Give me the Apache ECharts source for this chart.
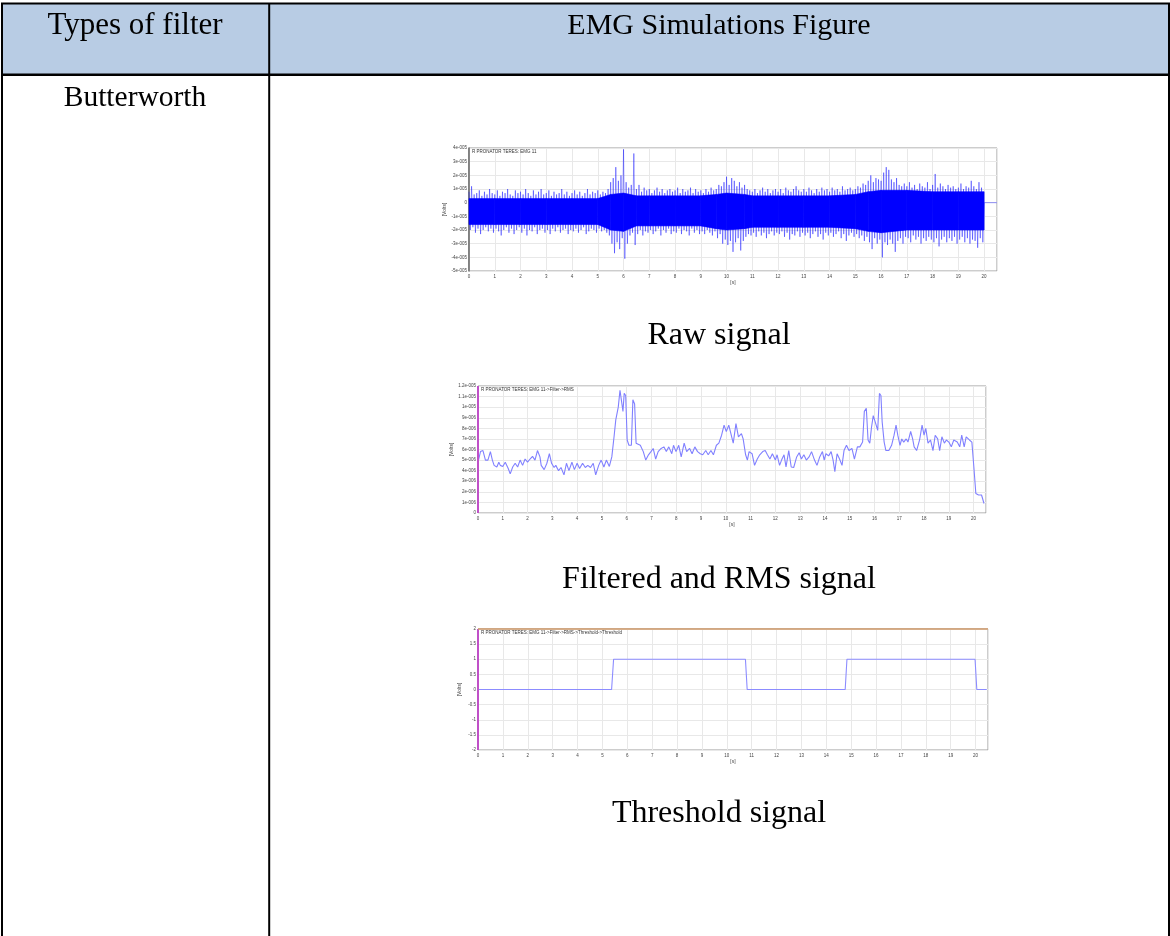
<!DOCTYPE html>
<html><head><meta charset="utf-8">
<script src="https://cdn.jsdelivr.net/npm/echarts@6/dist/echarts.min.js"></script>
<style>html,body{margin:0;padding:0;background:#fff}#c{width:1170px;height:936px}</style>
</head><body><div id="c"></div>
<script>
// ---------- texts ----------
const headers = ['Types of filter', 'EMG Simulations Figure'];
const filterName = 'Butterworth';
const captions = ['Raw signal', 'Filtered and RMS signal', 'Threshold signal'];
const plotTitles = ['R PRONATOR TERES: EMG 11', 'R PRONATOR TERES: EMG 11->Filter->RMS', 'R PRONATOR TERES: EMG 11->Filter->RMS->Threshold->Threshold'];

// ---------- raw signal (units of 1e-5 V), envelope every 0.1 s ----------
const rawHi = [
 0.8,1.2,0.6,0.7,0.9,0.5,0.8,0.6,1.0,0.7,
 0.6,0.9,0.5,0.8,0.7,1.0,0.6,0.5,0.9,0.7,
 0.8,0.6,1.0,0.7,0.5,0.9,0.6,0.8,1.0,0.6,
 0.7,0.9,0.5,0.8,0.6,0.7,1.0,0.6,0.8,0.5,
 0.7,0.9,0.6,0.8,0.5,0.7,1.0,0.6,0.8,0.7,
 0.9,0.6,0.8,0.7,1.0,1.5,1.8,2.6,1.6,2.0,
 3.9,1.5,1.1,1.3,3.6,1.0,1.3,0.8,1.1,0.9,
 1.0,0.7,0.9,1.1,0.8,1.0,0.7,0.9,1.0,0.8,
 0.9,1.1,0.7,1.0,0.8,0.9,1.1,0.7,1.0,0.8,
 0.9,0.7,1.0,0.8,1.1,0.9,1.0,1.3,1.2,1.5,
 1.9,1.3,1.8,1.6,1.2,1.5,1.1,1.3,1.0,0.9,
 0.8,1.0,0.7,0.9,1.1,0.8,1.0,0.7,0.9,1.0,
 0.8,1.0,0.7,1.1,0.9,0.8,1.0,1.2,0.9,0.8,
 1.0,0.8,1.1,0.9,0.7,1.0,0.8,1.1,0.9,1.0,
 0.8,1.1,0.9,1.0,0.8,1.2,0.9,1.0,1.1,0.9,
 1.0,1.2,1.1,1.4,1.3,1.6,2.0,1.5,1.8,1.7,
 1.6,2.2,2.6,2.4,1.7,1.5,1.8,1.3,1.2,1.4,
 1.2,1.5,1.1,1.3,1.0,1.4,1.2,1.1,1.5,1.0,
 1.3,2.1,1.1,1.4,1.2,1.0,1.3,1.1,1.2,1.0,
 1.1,1.4,1.0,1.2,1.1,1.6,1.2,1.0,1.5,1.1
];
const rawLo = [
 -2.0,-1.8,-2.2,-1.9,-2.3,-2.0,-1.8,-2.1,-1.9,-2.2,
 -1.9,-2.1,-2.4,-2.0,-1.8,-2.2,-1.9,-2.3,-2.0,-1.8,
 -2.2,-1.9,-2.4,-2.0,-2.1,-1.8,-2.3,-2.0,-1.9,-2.2,
 -2.0,-2.3,-1.9,-2.1,-1.8,-2.2,-2.0,-1.9,-2.3,-2.0,
 -2.1,-1.9,-2.2,-2.0,-1.8,-2.3,-2.1,-1.9,-2.0,-2.2,
 -1.9,-2.1,-2.0,-2.2,-2.4,-3.0,-3.7,-2.9,-3.4,-2.6,
 -4.1,-3.0,-2.4,-2.2,-3.1,-2.3,-2.0,-2.4,-2.1,-2.2,
 -2.0,-2.3,-2.1,-1.9,-2.4,-2.0,-2.2,-1.9,-2.3,-2.1,
 -2.2,-1.9,-2.3,-2.0,-2.1,-2.4,-1.9,-2.2,-2.0,-2.3,
 -2.1,-2.3,-2.0,-2.2,-2.4,-2.1,-2.6,-2.3,-3.0,-2.7,
 -3.1,-2.8,-3.6,-2.9,-2.6,-3.5,-2.8,-2.5,-2.3,-2.4,
 -2.2,-2.5,-2.1,-2.4,-2.2,-2.6,-2.3,-2.1,-2.4,-2.2,
 -2.3,-2.1,-2.5,-2.2,-2.7,-2.3,-2.4,-2.1,-2.5,-2.2,
 -2.4,-2.2,-2.6,-2.3,-2.1,-2.5,-2.3,-2.7,-2.2,-2.4,
 -2.2,-2.5,-2.3,-2.1,-2.6,-2.3,-2.8,-2.4,-2.2,-2.5,
 -2.3,-2.6,-2.4,-2.8,-2.5,-2.9,-3.4,-2.6,-3.0,-2.7,
 -4.0,-2.9,-3.1,-2.7,-3.0,-3.6,-2.8,-2.6,-3.0,-2.5,
 -2.6,-2.9,-2.4,-2.7,-2.5,-3.0,-2.6,-2.8,-2.5,-2.7,
 -2.9,-2.6,-3.2,-2.7,-2.5,-2.9,-2.6,-2.8,-2.5,-3.0,
 -2.7,-2.5,-2.9,-2.6,-3.0,-2.7,-2.8,-3.3,-2.6,-2.9
];
const rawStep = 0.1;
// dense core band of the raw signal (units 1e-5 V)
const coreT  = [0,1,2,3,4,5,5.5,6,6.5,7,8,9,9.6,10,10.7,11,12,13,14,15,15.5,16,17,18,19,20];
const coreHi = [0.3,0.3,0.3,0.3,0.3,0.3,0.6,0.7,0.5,0.5,0.5,0.5,0.6,0.7,0.6,0.5,0.5,0.5,0.5,0.6,0.8,0.9,0.9,0.8,0.8,0.8];
const coreLo = [-1.6,-1.6,-1.6,-1.6,-1.6,-1.6,-2.0,-2.1,-1.7,-1.7,-1.7,-1.7,-1.9,-2.0,-1.9,-1.8,-1.8,-1.8,-1.8,-1.9,-2.1,-2.2,-2.0,-2.0,-2.0,-2.0];
const rawTail = [[20.0, 0], [20.5, 0]];

// ---------- filtered + RMS (units of 1e-6 V) ----------
const rmsSignal = [
 [0.02,5.0],[0.1,5.8],[0.2,5.9],[0.3,5.0],[0.4,5.0],[0.5,5.8],[0.58,5.0],[0.65,4.5],[0.76,4.35],[0.84,4.8],
 [0.9,4.5],[1.0,4.4],[1.1,4.8],[1.22,4.2],[1.3,3.7],[1.4,4.35],[1.5,4.7],[1.6,4.35],[1.7,5.0],[1.8,4.5],
 [1.9,5.1],[2.0,4.8],[2.1,5.1],[2.2,5.35],[2.3,5.0],[2.4,5.9],[2.5,5.3],[2.55,4.5],[2.67,4.1],[2.78,4.7],
 [2.88,5.6],[2.97,4.7],[3.07,4.3],[3.14,4.5],[3.25,4.0],[3.35,4.3],[3.47,3.6],[3.57,4.7],[3.67,4.0],[3.79,4.8],
 [3.89,4.1],[4.0,4.7],[4.1,4.2],[4.22,4.7],[4.33,4.3],[4.43,4.5],[4.54,4.3],[4.65,4.7],[4.75,3.6],[4.87,4.5],
 [4.97,5.0],[5.08,4.35],[5.18,5.0],[5.3,4.4],[5.4,5.3],[5.49,7.2],[5.56,8.8],[5.66,10.0],[5.73,11.6],[5.8,11.7],
 [5.85,9.6],[5.9,11.3],[5.96,11.1],[6.02,6.9],[6.09,6.4],[6.19,6.4],[6.25,10.7],[6.32,10.3],[6.38,6.6],[6.45,6.7],
 [6.55,6.4],[6.67,5.8],[6.77,5.0],[6.88,5.5],[6.98,5.8],[7.07,6.1],[7.17,5.1],[7.27,5.8],[7.39,6.1],[7.5,6.25],
 [7.6,5.8],[7.7,6.25],[7.82,5.6],[7.89,6.4],[7.99,5.8],[8.1,6.4],[8.2,5.3],[8.32,6.6],[8.42,5.8],[8.54,6.1],
 [8.64,5.6],[8.75,6.25],[8.86,5.8],[8.97,5.6],[9.07,5.5],[9.19,5.9],[9.29,5.5],[9.4,5.9],[9.5,5.5],[9.62,6.4],
 [9.72,6.6],[9.83,7.35],[9.93,8.3],[10.02,7.7],[10.12,8.3],[10.2,8.45],[10.3,6.6],[10.41,8.45],[10.51,7.2],[10.63,7.5],
 [10.7,7.0],[10.8,5.5],[10.87,5.0],[10.94,5.8],[11.06,5.6],[11.16,4.5],[11.27,5.1],[11.37,5.5],[11.49,5.8],[11.59,5.9],
 [11.68,5.5],[11.78,5.1],[11.88,5.6],[12.0,5.0],[12.07,5.5],[12.17,4.5],[12.25,5.0],[12.35,5.5],[12.43,4.35],[12.54,5.9],
 [12.64,4.35],[12.74,4.3],[12.86,5.3],[12.96,5.7],[13.05,5.1],[13.15,5.5],[13.25,5.0],[13.36,5.3],[13.46,5.8],[13.58,5.0],
 [13.68,4.5],[13.79,5.3],[13.9,5.8],[13.97,5.0],[14.04,5.6],[14.15,5.4],[14.25,5.8],[14.33,5.0],[14.4,3.9],[14.49,5.6],
 [14.59,5.1],[14.69,4.5],[14.77,5.9],[14.87,6.4],[14.97,5.9],[15.09,6.1],[15.19,5.1],[15.31,6.25],[15.41,6.25],[15.52,6.7],
 [15.59,9.6],[15.67,9.9],[15.74,6.9],[15.81,6.6],[15.88,8.1],[15.95,9.2],[16.05,8.45],[16.13,7.8],[16.2,11.3],[16.26,11.1],
 [16.31,8.6],[16.39,6.7],[16.46,5.9],[16.58,5.9],[16.69,6.4],[16.79,7.35],[16.87,8.3],[16.94,7.35],[17.03,6.4],[17.1,7.0],
 [17.18,6.7],[17.28,7.0],[17.35,6.7],[17.46,7.7],[17.54,7.0],[17.6,6.25],[17.7,5.9],[17.82,6.9],[17.92,8.3],[18.0,7.35],
 [18.07,8.0],[18.16,6.6],[18.26,6.9],[18.36,5.9],[18.45,7.35],[18.55,7.0],[18.63,5.9],[18.72,7.2],[18.82,6.6],[18.9,6.9],
 [19.0,6.7],[19.1,6.25],[19.2,6.9],[19.34,6.7],[19.44,6.25],[19.52,7.35],[19.62,6.25],[19.7,7.2],[19.83,6.9],[19.93,6.7],
 [20.01,4.35],[20.09,1.85],[20.2,1.7],[20.32,1.7],[20.42,0.9]
];

// ---------- threshold ----------
const thrT = [0, 5.37, 5.45, 10.75, 10.82, 14.76, 14.83, 19.98, 20.05, 20.45];
const thrV = [0, 0, 1, 1, 0, 0, 1, 1, 0, 0];

// ---------- axes ----------
const xMax = 20.5;
const rawY = { min: -5, max: 4, interval: 1 };
const rmsY = { min: 0, max: 12, interval: 1 };
const thrY = { min: -2, max: 2, interval: 0.5 };

// ---------- build ----------
const rawZig = [];
for (let i = 0; i < rawHi.length; i++) {
  rawZig.push([i * rawStep, rawHi[i]]);
  rawZig.push([i * rawStep + rawStep / 2, rawLo[i]]);
}
rawTail.forEach(p => rawZig.push(p));
const coreSegs = [];
for (let i = 0; i < coreT.length - 1; i++) {
  coreSegs.push([coreT[i], coreHi[i], coreLo[i], coreT[i + 1], coreHi[i + 1], coreLo[i + 1]]);
}
const thrData = thrT.map((t, i) => [t, thrV[i]]);

const grids = [
  { left: 469, top: 148, width: 528, height: 123 },
  { left: 478, top: 386, width: 508, height: 127 },
  { left: 478, top: 629, width: 510, height: 121 }
];
const lblFont = { fontSize: 4.5, color: '#444', fontFamily: 'Liberation Sans' };

function xAx(gi) {
  return {
    type: 'value', gridIndex: gi, min: 0, max: xMax, interval: 1,
    name: '[s]', nameLocation: 'middle', nameGap: 9,
    nameTextStyle: { fontSize: 5, color: '#444', fontFamily: 'Liberation Sans' },
    axisLine: { show: false }, axisTick: { show: false },
    axisLabel: Object.assign({ margin: 3, formatter: v => (v > 20 ? '' : String(v)) }, lblFont),
    splitLine: { show: true, lineStyle: { color: '#e8e8e8', width: 1 } }
  };
}
function yAx(gi, cfg, fmt, lineColor) {
  return {
    type: 'value', gridIndex: gi, min: cfg.min, max: cfg.max, interval: cfg.interval,
    name: '[Volts]', nameLocation: 'middle', nameGap: 16, nameRotate: 90,
    nameTextStyle: { fontSize: 5, color: '#444', fontFamily: 'Liberation Sans' },
    axisLine: { show: !!lineColor, lineStyle: { color: lineColor || '#999', width: 1.5 } },
    axisTick: { show: false },
    axisLabel: Object.assign({ margin: 2, formatter: fmt }, lblFont),
    splitLine: { show: true, lineStyle: { color: '#e8e8e8', width: 1 } }
  };
}
const fmtRaw = v => (v === 0 ? '0' : v + 'e-005');
const fmtRms = v => (v === 0 ? '0' : (v >= 10 ? (v / 10) + 'e-005' : v + 'e-006'));
const fmtThr = v => String(v);

const serif = 'Liberation Serif, Times New Roman, serif';
function txt(s, x, y, size) {
  return { type: 'text', x: x, y: y, style: { text: s, font: size + 'px ' + serif, fill: '#000', textAlign: 'center', textVerticalAlign: 'middle' } };
}
const graphic = [
  { type: 'rect', shape: { x: 2, y: 3, width: 1167, height: 71 }, style: { fill: '#B8CCE4' }, z: -1 },
  { type: 'line', shape: { x1: 1, y1: 3.5, x2: 1170, y2: 3.5 }, style: { stroke: '#000', lineWidth: 2 } },
  { type: 'line', shape: { x1: 1, y1: 74.7, x2: 1170, y2: 74.7 }, style: { stroke: '#000', lineWidth: 2.5 } },
  { type: 'line', shape: { x1: 2, y1: 3, x2: 2, y2: 936 }, style: { stroke: '#000', lineWidth: 2 } },
  { type: 'line', shape: { x1: 269.2, y1: 3, x2: 269.2, y2: 936 }, style: { stroke: '#000', lineWidth: 2 } },
  { type: 'line', shape: { x1: 1169, y1: 3, x2: 1169, y2: 936 }, style: { stroke: '#000', lineWidth: 2 } },
  txt(headers[0], 135, 26, 31),
  txt(headers[1], 719, 26, 30),
  txt(filterName, 135, 98, 29.5),
  txt(captions[0], 719, 336, 32),
  txt(captions[1], 719, 580, 32),
  txt(captions[2], 719, 814, 32)
];
grids.forEach((g, i) => {
  graphic.push({ type: 'text', x: g.left + 3, y: g.top + 1.5, z: 100,
    style: { text: plotTitles[i], font: '4.5px Liberation Sans', fill: '#333', textAlign: 'left', textVerticalAlign: 'top' } });
});

const option = {
  animation: false,
  backgroundColor: '#fff',
  graphic: graphic,
  grid: grids.map(g => Object.assign({ show: true, borderColor: '#9a9a9a', borderWidth: 1, backgroundColor: '#fff' }, g)),
  xAxis: [xAx(0), xAx(1), xAx(2)],
  yAxis: [yAx(0, rawY, fmtRaw, '#666'), yAx(1, rmsY, fmtRms), yAx(2, thrY, fmtThr)],
  series: [
    { type: 'line', xAxisIndex: 0, yAxisIndex: 0, data: rawZig, showSymbol: false, silent: true,
      lineStyle: { color: 'rgba(0,0,255,0.45)', width: 0.9 } },
    { type: 'custom', xAxisIndex: 0, yAxisIndex: 0, data: coreSegs, silent: true,
      encode: { x: [0, 3], y: [1, 2, 4, 5] },
      renderItem: function (params, api) {
        const a = api.coord([api.value(0), api.value(1)]);
        const b = api.coord([api.value(3), api.value(4)]);
        const c = api.coord([api.value(3), api.value(5)]);
        const d = api.coord([api.value(0), api.value(2)]);
        return { type: 'polygon', shape: { points: [a, b, c, d] }, style: { fill: '#0000ff', stroke: '#0000ff', lineWidth: 0.6 } };
      } },
    { type: 'line', xAxisIndex: 1, yAxisIndex: 1, data: rmsSignal, showSymbol: false, silent: true,
      lineStyle: { color: '#8080ff', width: 1.1 },
      markLine: { silent: true, symbol: 'none', label: { show: false },
        lineStyle: { color: '#c050c8', width: 2, type: 'solid' }, data: [{ xAxis: 0 }] } },
    { type: 'line', xAxisIndex: 2, yAxisIndex: 2, data: thrData, showSymbol: false, silent: true,
      lineStyle: { color: '#8c8cff', width: 1.1 },
      markLine: { silent: true, symbol: 'none', label: { show: false },
        data: [
          { xAxis: 0, lineStyle: { color: '#c050c8', width: 2, type: 'solid' } },
          { yAxis: 2, lineStyle: { color: '#d09a6a', width: 1.5, type: 'solid' } }
        ] } }
  ]
};
const chart = echarts.init(document.getElementById('c'), null, { renderer: 'canvas' });
chart.setOption(option);
</script></body></html>
